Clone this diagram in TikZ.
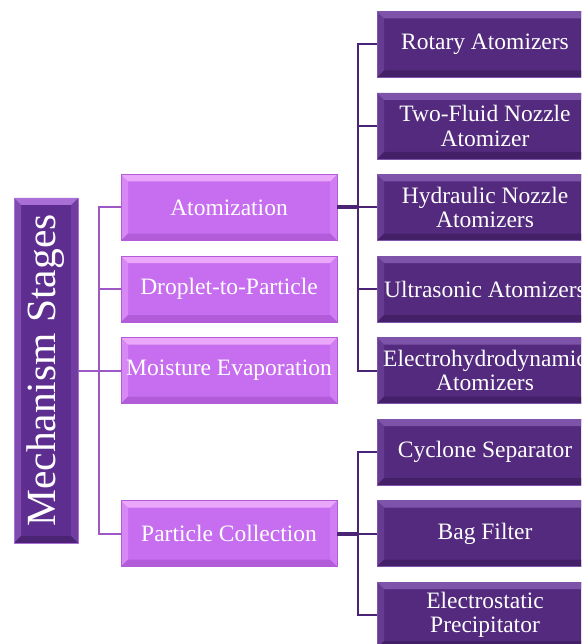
\documentclass[tikz,border=0pt]{standalone}
\usepackage{fontspec}
\setmainfont{Liberation Serif}

\definecolor{stagefill}{RGB}{199,110,240}
\definecolor{stagelight}{RGB}{235,168,250}
\definecolor{stagedark}{RGB}{178,92,218}
\definecolor{kindfill}{RGB}{83,42,125}
\definecolor{kindlight}{RGB}{125,84,170}
\definecolor{kinddark}{RGB}{68,32,104}
\definecolor{rootfill}{RGB}{94,45,144}
\definecolor{rootlight}{RGB}{170,110,215}
\definecolor{stageline}{RGB}{158,88,198}
\definecolor{kindline}{RGB}{76,36,118}

\tikzset{
  % bevelled box: light top and left strip, darker bottom strip
  bevel/.style 2 args={path picture={
    \path (path picture bounding box.north west) coordinate (bnw)
          (path picture bounding box.north east) coordinate (bne)
          (path picture bounding box.south west) coordinate (bsw)
          (path picture bounding box.south east) coordinate (bse);
    \fill[#1] (bnw) -- (bne) -- ([shift={(-7,-7)}]bne) -- ([shift={(7,-7)}]bnw) -- cycle;
    \fill[#1,opacity=.45] (bnw) -- ([shift={(7,-7)}]bnw) -- ([shift={(7,7)}]bsw) -- (bsw) -- cycle;
    \fill[#1,opacity=.25] (bne) -- ([shift={(-7,-7)}]bne) -- ([shift={(-7,7)}]bse) -- (bse) -- cycle;
    \fill[#2] (bsw) -- (bse) -- ([shift={(-7,7)}]bse) -- ([shift={(7,7)}]bsw) -- cycle;
  }},
  rootbox/.style={fill=rootfill, draw=rootlight, line width=.6pt,
    bevel={rootlight}{rootfill!80!black}, minimum width=64, minimum height=345,
    inner sep=0, text=white, font=\fontsize{41.5}{41.5}\selectfont},
  stagebox/.style={fill=stagefill, draw=stagedark, line width=.6pt,
    bevel={stagelight}{stagedark}, minimum width=216, minimum height=66,
    inner sep=0, text=white, align=center, font=\fontsize{23.5}{24}\selectfont},
  kindbox/.style={fill=kindfill, draw=kindlight, line width=.6pt,
    bevel={kindlight}{kinddark}, minimum width=216, minimum height=66,
    inner sep=0, text=white, align=center, font=\fontsize{23.5}{24.5}\selectfont},
  stub/.style={draw=kindline, line width=4pt}
}

\begin{document}
\begin{tikzpicture}[x=1pt, y=1pt,
  level 1/.style={level distance=183, sibling distance=81.5,
    edge from parent/.style={draw=stageline, line width=2pt}},
  level 2/.style={level distance=256, sibling distance=81.5,
    edge from parent/.style={draw=kindline, line width=2pt}},
  edge from parent path={(\tikzparentnode.east) -- ++(21,0) |- (\tikzchildnode.west)}]

\useasboundingbox (0,0) rectangle (581,-644);
\clip (0,0) rectangle (581,-644);

\node[rootbox] (root) at (46,-370.5) {\rotatebox{90}{Mechanism Stages}} [grow'=east]
  child {node[stagebox] (atom) {Atomization}
    child {node[kindbox] (rotary) {Rotary Atomizers}}
    child {node[kindbox] (twofluid) {Two-Fluid Nozzle\\Atomizer}}
    child {node[kindbox] (hydraulic) {Hydraulic Nozzle\\Atomizers}}
    child {node[kindbox] (ultra) {Ultrasonic Atomizers}}
    child {node[kindbox] (ehd) {Electrohydrodynamic\\Atomizers}}}
  child {node[stagebox] (droplet) {Droplet-to-Particle}}
  child {node[stagebox] (moist) {Moisture Evaporation}}
  child[missing] {}
  child {node[stagebox] (collect) {Particle Collection}
    child {node[kindbox] (cyclone) {Cyclone Separator}}
    child {node[kindbox] (bag) {Bag Filter}}
    child {node[kindbox] (esp) {Electrostatic\\Precipitator}}};

% heavier stubs out of the stage boxes
\draw[stub] (atom.east) -- ++(20,0);
\draw[stub] (collect.east) -- ++(20,0);

\end{tikzpicture}
\end{document}
